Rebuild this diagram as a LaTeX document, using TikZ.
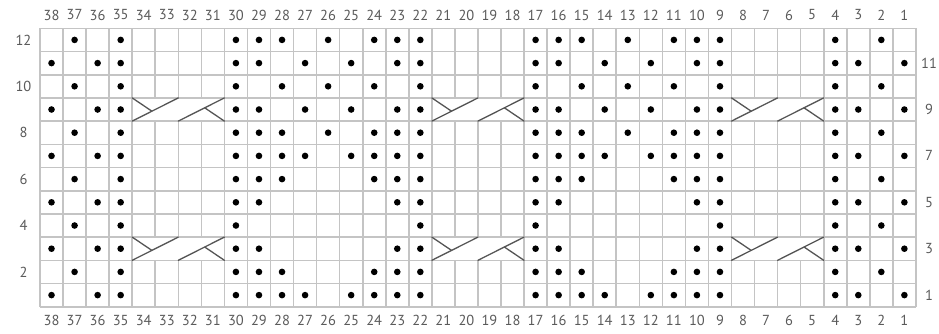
\documentclass[tikz,border=0pt]{standalone}
\usepackage{fontspec}
\setmainfont{PT Sans}
\definecolor{gridgray}{HTML}{C4C4C4}
\definecolor{labelgray}{HTML}{5A5A5A}
\definecolor{cablegray}{HTML}{555555}
\begin{document}
\begin{tikzpicture}[x=1pt,y=-1pt,
  gridline/.style={draw=gridgray, line width=1.6pt},
  dot/.style={circle, fill=black, draw=none, inner sep=0pt, minimum size=6.6pt},
  lbl/.style={text=labelgray, font=\fontsize{14.5}{14.5}\selectfont, inner sep=0pt},
  cable/.style={draw=cablegray, line width=1.3pt, line cap=round},
  cablebg/.style={fill=white, draw=none}]
\useasboundingbox (0,0) rectangle (939,333);
\def\L{40}\def\T{28.3}\def\W{23.05}\def\H{23.2}
% grid
\foreach \i in {0,...,38}
  \draw[gridline] ({\L+\i*\W},\T) -- ({\L+\i*\W},{\T+12*\H});
\foreach \j in {0,...,12}
  \draw[gridline] (\L,{\T+\j*\H}) -- ({\L+38*\W},{\T+\j*\H});
% cables
\foreach \cl in {34,21,8}{
  \foreach \r in {9,3}{
    \pgfmathsetmacro{\xa}{\L+(38-\cl)*\W}
    \pgfmathsetmacro{\ya}{\T+(12-\r)*\H}
    \pgfmathsetmacro{\yb}{\ya+\H}
    \fill[cablebg] ({\xa+0.8},{\ya+0.8}) rectangle ({\xa+4*\W-0.8},{\yb-0.8});
    \draw[cable] (\xa,\yb) -- ({\xa+2*\W},\ya);
    \draw[cable] (\xa,\ya) -- ({\xa+0.85*\W},{\yb-0.43*\H});
    \draw[cable] ({\xa+2*\W},\yb) -- ({\xa+4*\W},\ya);
    \draw[cable] ({\xa+4*\W},\yb) -- ({\xa+3.15*\W},{\yb-0.57*\H});
  }
}
% dots
\foreach \r/\cols in {
  12/{37,35,30,29,28,26,24,23,22,17,16,15,13,11,10,9,4,2},
  11/{38,36,35,30,29,27,25,23,22,17,16,14,12,10,9,4,3,1},
  10/{37,35,30,28,26,24,22,17,15,13,11,9,4,2},
  9/{38,36,35,30,29,27,25,23,22,17,16,14,12,10,9,4,3,1},
  8/{37,35,30,29,28,26,24,23,22,17,16,15,13,11,10,9,4,2},
  7/{38,36,35,30,29,28,27,25,24,23,22,17,16,15,14,12,11,10,9,4,3,1},
  6/{37,35,30,29,28,24,23,22,17,16,15,11,10,9,4,2},
  5/{38,36,35,30,29,23,22,17,16,10,9,4,3,1},
  4/{37,35,30,22,17,9,4,2},
  3/{38,36,35,30,29,23,22,17,16,10,9,4,3,1},
  2/{37,35,30,29,28,24,23,22,17,16,15,11,10,9,4,2},
  1/{38,36,35,30,29,28,27,25,24,23,22,17,16,15,14,12,11,10,9,4,3,1}}{
  \foreach \c in \cols
    \node[dot] (d\r-\c) at ({\L+(38-\c+0.5)*\W},{\T+(12-\r+0.5)*\H}) {};
}
% column labels
\foreach \c in {1,...,38}{
  \node[lbl] (top\c) at ({\L+(38-\c+0.5)*\W},15) {\c};
  \node[lbl] (bot\c) at ({\L+(38-\c+0.5)*\W},320.5) {\c};
}
% row labels
\foreach \r in {2,4,...,12}
  \node[lbl] (left\r) at (23.5,{\T+(12-\r+0.5)*\H}) {\r};
\foreach \r in {1,3,...,11}
  \node[lbl] (right\r) at (929,{\T+(12-\r+0.5)*\H}) {\r};
\end{tikzpicture}
\end{document}
